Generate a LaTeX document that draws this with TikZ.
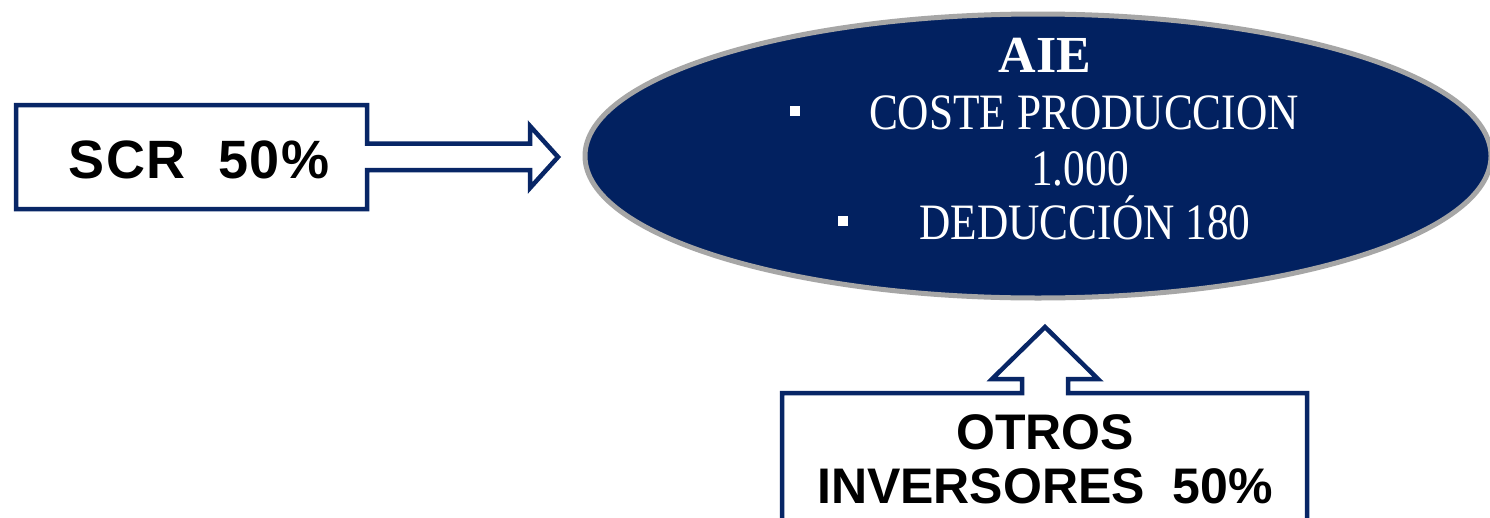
\documentclass[tikz,border=0pt]{standalone}
\usepackage{fontspec}
\setmainfont{Liberation Serif}
\newfontfamily\ellfont[FakeStretch=0.85]{Liberation Serif}
\newfontfamily\boxfont{Liberation Sans}
\newfontfamily\scrfont[LetterSpace=2.5]{Liberation Sans}
\usepackage{xcolor}
\usepackage{tikz}
\usetikzlibrary{shapes.geometric}
\definecolor{aienavy}{RGB}{2,33,96}
\definecolor{boxnavy}{RGB}{8,38,102}
\definecolor{rimgray}{RGB}{166,166,166}
\tikzstyle{callout} = [draw=boxnavy, line width=4.5pt, fill=white, line join=miter]
\tikzstyle{boxtext} = [anchor=base, inner sep=0pt, font=\boxfont\bfseries\fontsize{50}{55}\selectfont]
\tikzstyle{elltext} = [anchor=base, inner sep=0pt, text=white, font=\ellfont\fontsize{51}{55}\selectfont]
\tikzstyle{bullet} = [fill=white, minimum size=10pt, inner sep=0pt]

\begin{document}
\begin{tikzpicture}[x=1pt, y=-1pt]
\clip (0,0) rectangle (1490,517);
\fill[white] (0,0) rectangle (1490,517);

% ellipse AIE
\node (aie) [ellipse, fill=aienavy, draw=rimgray, line width=5pt, minimum width=906pt, minimum height=284pt] at (1038,156) {};
\node (aietitle) [anchor=base, inner sep=0pt, text=white, font=\bfseries\fontsize{52}{55}\selectfont] at (1045,72) {AIE};
\node (coste) [elltext] at (1084,129) {COSTE PRODUCCION};
\node (mil) [elltext] at (1080,185) {1.000};
\node (deduc) [elltext] at (1085,239) {DEDUCCIÓN 180};
\node (b1) [bullet] at (795,111) {};
\node (b2) [bullet] at (843,221) {};

% SCR callout
\draw [callout] (16,105) -- (367,105) -- (367,143.5) -- (530,143.5) -- (530,126) -- (558,157)
  -- (530,188) -- (530,170) -- (367,170) -- (367,209) -- (16,209) -- cycle;
\node (scr) [boxtext, font=\scrfont\bfseries\fontsize{54}{58}\selectfont] at (199,178) {SCR\ \ 50\%};

% OTROS INVERSORES callout
\draw [callout] (782,540) -- (782,393) -- (1022,393) -- (1022,379) -- (992,379) -- (1045,327)
  -- (1098,379) -- (1068,379) -- (1068,393) -- (1307,393) -- (1307,540);
\node (otros) [boxtext] at (1045,449) {OTROS};
\node (inver) [boxtext] at (1045,503) {INVERSORES\ \ 50\%};
\end{tikzpicture}
\end{document}
